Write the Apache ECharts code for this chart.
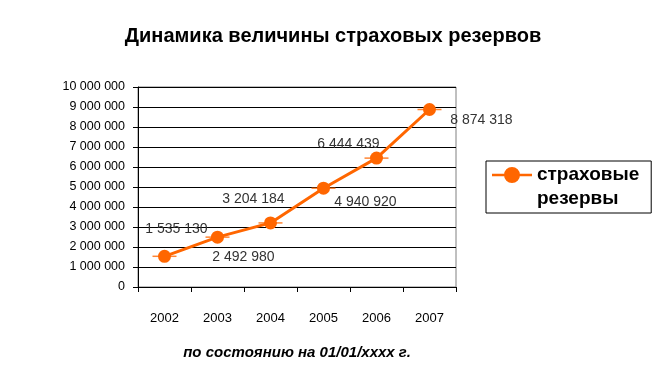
<!DOCTYPE html>
<html><head><meta charset="utf-8">
<script src="https://cdn.jsdelivr.net/npm/echarts@6/dist/echarts.min.js"></script>
<style>html,body{margin:0;padding:0;background:#fff}#c{width:666px;height:379px}</style>
</head><body><div id="c"></div>
<script>
const titleText = 'Динамика величины страховых резервов';
const xAxisName = 'по состоянию на 01/01/хххх г.';
const seriesName = 'страховые\nрезервы';
const categories = ['2002', '2003', '2004', '2005', '2006', '2007'];
const reserves = [1535130, 2492980, 3204184, 4940920, 6444439, 8874318];
const yTicks = [0, 1000000, 2000000, 3000000, 4000000, 5000000, 6000000, 7000000, 8000000, 9000000, 10000000];

const labelOffsets = [[12, -27], [26, 20], [-17, -24], [42, 14], [-28, -14], [52, 11]];
const fmt = v => String(v).replace(/\B(?=(\d{3})+(?!\d))/g, ' ');
const FONT = '"Liberation Sans", Arial, sans-serif';
// legend glyph: line with a circle, placed level with the first text line
const legendIcon = 'path://M0,0 L0.01,0 L0.01,0.01 Z M0,10.7 L40,10.7 L40,13.3 L0,13.3 Z M12,12 A8,8 0 1,1 28,12 A8,8 0 1,1 12,12 Z M0,47.99 L0.01,48 L0,48 Z';

const chart = echarts.init(document.getElementById('c'), null, {renderer: 'canvas'});
chart.setOption({
  animation: false,
  textStyle: {fontFamily: FONT},
  title: {
    text: titleText, left: 'center', top: 21,
    textStyle: {fontFamily: FONT, fontSize: 20, fontWeight: 'bold', color: '#000'}
  },
  legend: {
    left: 486, top: 161, width: 150,
    padding: [2, 12, 2, 6],
    borderColor: '#000', borderWidth: 1,
    icon: legendIcon,
    itemWidth: 40, itemHeight: 48, itemGap: 4,
    itemStyle: {color: '#FF6600'},
    textStyle: {fontFamily: FONT, fontSize: 19, fontWeight: 'bold', color: '#000', lineHeight: 24},
    data: [seriesName]
  },
  grid: {left: 138, right: 210, top: 87, bottom: 92, show: true, borderColor: '#808080', borderWidth: 1},
  xAxis: {
    type: 'category', data: categories, boundaryGap: true,
    name: xAxisName, nameLocation: 'middle', nameGap: 58,
    nameTextStyle: {fontFamily: FONT, fontSize: 15, fontWeight: 'bold', fontStyle: 'italic', color: '#000'},
    axisLine: {lineStyle: {color: '#000', width: 1}},
    axisTick: {show: true, length: 5, alignWithLabel: false, lineStyle: {color: '#000'}},
    axisLabel: {margin: 25, fontSize: 13, color: '#000', fontFamily: FONT}
  },
  yAxis: {
    type: 'value', min: yTicks[0], max: yTicks[yTicks.length - 1], interval: yTicks[1] - yTicks[0],
    axisLine: {show: true, lineStyle: {color: '#000', width: 1}},
    axisTick: {show: true, length: 5, lineStyle: {color: '#000'}},
    splitLine: {show: true, lineStyle: {color: '#000', width: 1}},
    axisLabel: {margin: 13, fontSize: 12.5, color: '#000', fontFamily: FONT, formatter: v => fmt(v)}
  },
  series: [
    {
      name: seriesName, type: 'line', z: 3,
      data: reserves.map((v, i) => ({value: v, label: {offset: labelOffsets[i]}})),
      symbol: 'circle', symbolSize: 13,
      lineStyle: {color: '#FF6600', width: 3},
      itemStyle: {color: '#FF6600'},
      label: {show: true, position: 'inside', color: '#333', fontSize: 14, fontFamily: FONT,
              formatter: p => fmt(p.value)}
    },
    {
      name: 'dash', type: 'scatter', z: 2, silent: true,
      data: reserves,
      symbol: 'rect', symbolSize: [24, 1.5],
      itemStyle: {color: '#FF6600'}
    }
  ]
});
</script></body></html>
